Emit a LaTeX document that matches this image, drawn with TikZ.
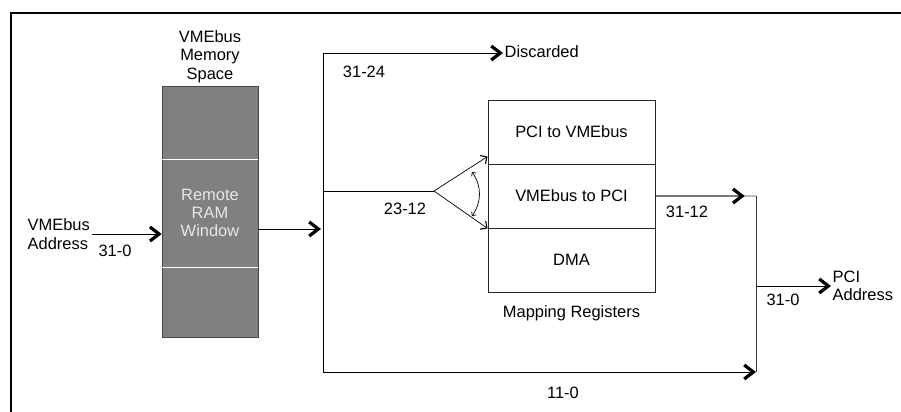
\documentclass[tikz,border=0pt]{standalone}
\usepackage{fontspec}
\setmainfont{Liberation Sans}
\usetikzlibrary{arrows.meta,positioning}
\definecolor{memgray}{RGB}{128,128,128}
\definecolor{memedge}{RGB}{70,70,70}
\definecolor{memtext}{RGB}{230,230,230}
\definecolor{wiregray}{RGB}{60,60,60}
\tikzstyle{memblock} = [rectangle, minimum width=2.4cm, minimum height=6.275cm, draw=memedge, fill=memgray, inner sep=0pt]
\tikzstyle{reg} = [rectangle, minimum width=4.175cm, minimum height=1.6cm, text centered, draw=black!85, line width=0.6pt]
\tikzstyle{label} = [inner sep=1pt, align=center]
\tikzstyle{arrow} = [line width=0.6pt, -{Straight Barb[length=6.5pt,width=10pt,line width=2.3pt]}]
\tikzstyle{thinarrow} = [line width=0.5pt, -{Straight Barb[length=3.5pt,width=7pt,line width=0.8pt]}]

\begin{document}
\begin{tikzpicture}[x=0.025cm, y=-0.025cm, node distance=1.6cm, font=\fontsize{11.7pt}{13pt}\selectfont]
\useasboundingbox (0,0) rectangle (901,412);

% Frame (open to the right and bottom)
\coordinate (fb) at (11,412);
\coordinate (fc) at (11,13);
\coordinate (fr) at (901,13);
\draw[line width=2.1pt] (fb) -- (fc) -- (fr);

% VMEbus memory space
\node (mem) [memblock] at (210,211.5) {};
\node (win) [label, minimum width=2.4cm, minimum height=2.6cm, text=memtext] at (210,213) {Remote\\RAM\\Window};
\draw[white, line width=0.8pt] ([yshift=0.7pt]win.north west) -- ([yshift=0.7pt]win.north east);
\draw[white, line width=0.8pt] ([yshift=-1.3pt]win.south west) -- ([yshift=-1.3pt]win.south east);
\node (memtitle) [label, above=1pt of mem] {VMEbus\\Memory\\Space};

% Incoming address
\node (vin) [label, align=left, anchor=west] at (26,234) {VMEbus\\Address};
\draw[arrow] (vin.east) -- (vin.east -| mem.west);
\node (b310) [label] at (115,251) {31-0};

% Address bus split
\coordinate (mout) at (258,229);
\coordinate (bin) at (321,229);
\coordinate (bt) at (323,53);
\coordinate (bm) at (323,191);
\coordinate (bb) at (323,372);
\draw[arrow] (mout) -- (bin);
\draw[line width=0.6pt] (bt) -- (bb);

% Discarded bits
\node (disc) [label, anchor=west] at (503,52) {Discarded};
\draw[arrow] (bt) -- (disc.west |- bt);
\node (b3124) [label] at (364,72) {31-24};

% Mapping registers
\node (pv) [reg] at (571.5,132) {PCI to VMEbus};
\node (vp) [reg, below of=pv] {VMEbus to PCI};
\node (dma) [reg, below of=vp] {DMA};
\node (maptitle) [label, below=8pt of dma] {Mapping Registers};

% Index selection
\coordinate (apex) at (434,191);
\draw[line width=0.6pt] (bm) -- (apex);
\draw[thinarrow] (apex) -- ([yshift=5pt]vp.north west);
\draw[thinarrow] (apex) -- (vp.south west);
\coordinate (sa) at (472,172);
\coordinate (sb) at (472,216);
\draw[line width=0.5pt, {Straight Barb[length=2pt,width=4pt]}-{Straight Barb[length=2pt,width=4pt]}] (sa) to[bend left=35] (sb);
\node (b2312) [label] at (405,209) {23-12};

% Merge to PCI address
\coordinate (j1) at (756,196);
\coordinate (j3) at (756,286);
\coordinate (j2) at (756,372);
\draw[line width=0.6pt, wiregray] (vp.east) -- (j1);
\draw[arrow] (vp.east) -- ([xshift=-8pt]j1);
\node (b3112) [label] at (687,212) {31-12};
\draw[line width=0.6pt, wiregray] (j1) -- (j2);
\draw[arrow] (bb) -- (j2);
\node (b110) [label] at (563,393) {11-0};

\node (pci) [label, align=left, anchor=west] at (831,286) {PCI\\Address};
\draw[arrow] (j3) -- (pci.west);
\node (b310b) [label] at (783,300) {31-0};
\end{tikzpicture}
\end{document}
